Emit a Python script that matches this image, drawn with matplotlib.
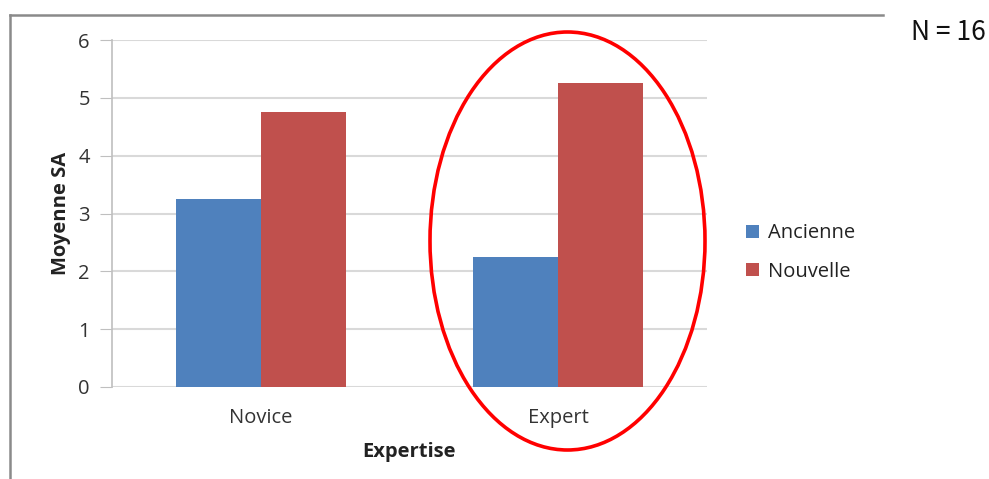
import matplotlib.pyplot as plt
from matplotlib.patches import Ellipse
from matplotlib.lines import Line2D
import numpy as np

# data
categories = ['Novice', 'Expert']
ancienne = [3.25, 2.25]
nouvelle = [4.75, 5.25]
series_names = ['Ancienne', 'Nouvelle']
yticks = [0, 1, 2, 3, 4, 5, 6]

blue = '#4F81BD'
red = '#C0504D'

plt.rcParams['font.family'] = ['Open Sans', 'DejaVu Sans']

W, H = 989, 479
fig = plt.figure(figsize=(W / 100, H / 100), dpi=100)
ax = fig.add_axes([112 / W, 1 - 387 / H, (707 - 112) / W, (387 - 40) / H])

x = np.arange(len(categories))
bw = 1 / 1.75 / 2
ax.bar(x - bw / 2, ancienne, bw, color=blue, label=series_names[0], zorder=3)
ax.bar(x + bw / 2, nouvelle, bw, color=red, label=series_names[1], zorder=3)

ax.set_xlim(-0.5, 1.5)
ax.set_ylim(0, 6)
ax.set_yticks(yticks)
ax.set_xticks(x)
ax.set_xticklabels(categories, fontsize=14.5, color='#333333')
ax.tick_params(axis='y', length=9, color='#bfbfbf', labelsize=14.5, labelcolor='#333333', pad=7)
ax.tick_params(axis='x', length=0, pad=15)
ax.grid(axis='y', color='#d9d9d9', linewidth=1.5, zorder=0)
for s in ['top', 'right', 'bottom']:
    ax.spines[s].set_visible(False)
ax.spines['left'].set_color('#bfbfbf')
ax.spines['left'].set_linewidth(1.2)

ax.set_xlabel('Expertise', fontsize=14.5, fontweight='bold', color='#222222', labelpad=10)
ax.set_ylabel('Moyenne SA', fontsize=14.5, fontweight='bold', color='#222222', labelpad=5)

ax.legend(loc='center left', bbox_to_anchor=(728 / W, 1 - 252.5 / H), bbox_transform=fig.transFigure,
          frameon=False, fontsize=14.5, handlelength=0.65, handleheight=0.65, labelspacing=0.9,
          handletextpad=0.45, labelcolor='#222222')

# outer chart frame (left and top edges)
fig.add_artist(Line2D([10 / W, 10 / W], [0, 1 - 15 / H], color='#8a8a8a', lw=1.8))
fig.add_artist(Line2D([10 / W, 883 / W], [1 - 15 / H, 1 - 15 / H], color='#8a8a8a', lw=1.8))

# red highlight ellipse
fig.add_artist(Ellipse((567.5 / W, 1 - 241 / H), 275 / W, 418 / H, transform=fig.transFigure,
                       fill=False, edgecolor='#ff0000', lw=2.6))

fig.text(911 / W, 1 - 33 / H, 'N = 16', fontsize=19, va='center', ha='left',
         family=['Noto Sans CJK JP', 'DejaVu Sans'], color='#111111')

fig.savefig('out.png', dpi=100)
